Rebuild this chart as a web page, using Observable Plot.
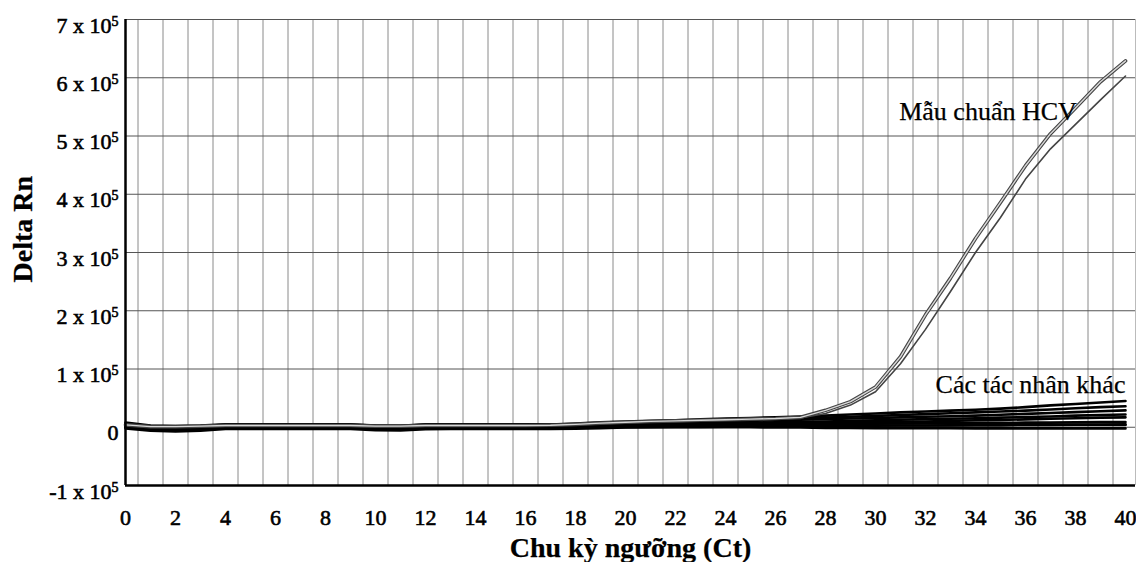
<!DOCTYPE html>
<html>
<head>
<meta charset="utf-8">
<script src="https://cdn.jsdelivr.net/npm/d3@7"></script>
<script src="https://cdn.jsdelivr.net/npm/@observablehq/plot@0.6"></script>
<style>
  html, body { margin: 0; padding: 0; background: #fff; }
  #chart svg { display: block; }
</style>
</head>
<body>
<div id="chart"></div>
<script>
// ---- Data ----
const cycles = [0,1,2,3,4,5,6,7,8,9,10,11,12,13,14,15,16,17,18,19,20,21,22,23,24,25,26,27,28,29,30,31,32,33,34,35,36,37,38,39,40];

// HCV standard sample (two replicates)
const hcvStandard1 = [4000,1000,1000,2000,3000,3000,3000,3000,3000,3000,2000,2000,3000,3000,3000,3000,3000,3500,5000,7000,8500,10000,11000,12000,13000,14000,15000,17000,29000,44000,69000,121000,193000,256000,324000,386000,449000,504000,548000,593000,629000];
const hcvStandard2 = [3000,0,0,1000,2000,2000,2000,2000,2000,2000,1000,1000,2000,2000,2000,2000,2000,3000,4500,6000,7500,9000,10000,11000,12000,13000,14000,16000,23500,38000,61000,109000,168000,233000,300000,360000,426000,478000,520000,562000,603000];

// Other agents (non-HCV samples)
const other1 = [6000,2000,1000,2000,4000,4000,4000,4000,4000,4000,3000,2500,4000,4000,4000,4000,4000,4500,6500,8500,10000,11000,12000,13500,15000,16000,17000,18500,20000,22000,23500,25500,27000,28500,30000,32000,34500,37500,40000,42500,45000];
const other2 = [3000,0,-1000,0,2000,2000,2000,2000,2000,2000,1000,1000,2000,2000,2000,2000,2000,2500,4000,6000,7500,9000,10000,11000,12000,13000,14000,15000,16500,18000,19500,21000,22500,24000,25500,27000,28500,30500,32500,34500,36000];
const other3 = [2000,-1000,-2000,-1000,1000,1500,1500,1500,1500,1500,500,0,1500,1500,1500,1500,1500,2000,3000,4000,5500,7000,8000,9000,10000,11000,12000,13000,14000,15000,16000,17000,18000,19000,20000,21500,23000,24500,26000,27500,29000];
const other4 = [1000,-2000,-3000,-2000,500,1000,1000,1000,1000,1000,0,-500,1000,1000,1000,1000,1000,1500,2000,3000,4000,5000,5500,6000,7000,8000,8500,9000,10000,11000,12000,13000,14000,14500,15500,16500,17500,18500,20000,21000,22000];
const other5 = [0,-3000,-4000,-3000,0,500,500,500,500,500,-1000,-1500,500,500,500,500,500,1000,1500,2000,2500,3000,3500,4000,5000,5500,6000,6500,7500,8000,9000,9500,10000,11000,12000,12500,13500,14500,15500,16500,17000];
const other6 = [0,-4000,-5000,-4000,-1000,0,0,0,0,0,-2500,-3000,-500,0,0,0,0,0,500,1000,1500,2000,2000,2500,2500,3000,3500,4000,4500,5000,6000,6500,7000,7000,7500,7500,8000,8000,8500,9000,9000];
const other7 = [-2000,-6000,-7000,-6000,-3000,-3000,-3000,-3000,-3000,-3000,-5000,-5500,-3500,-3000,-3000,-3000,-3000,-3000,-2500,-1500,-500,0,500,500,1000,1000,1000,1500,1500,2000,2500,3000,3000,3000,3500,3500,4000,4000,4500,4500,5000];
const other8 = [2000,-2000,-3000,-2000,0,0,0,0,0,0,-2000,-2500,0,0,0,0,0,0,0,0,0,0,0,0,0,0,-500,-500,-1000,-1000,-1500,-1500,-1500,-1500,-2000,-2000,-2000,-2000,-2000,-2000,-2000];
const other9 = [8000,3000,2000,3000,5000,5000,5000,5000,5000,5000,3000,2500,5000,5000,5000,5000,5000,4500,4000,3000,2500,2000,2000,2000,2000,2000,2000,2500,2500,2500,3000,3000,3000,3500,3500,3500,4000,4000,4000,4000,4000];

// Axis ticks and labels
const xTicks = [0,2,4,6,8,10,12,14,16,18,20,22,24,26,28,30,32,34,36,38,40];
const yTicks = [-100000,0,100000,200000,300000,400000,500000,600000,700000];
const yExponent = 5;
const xLabel = "Chu kỳ ngưỡng (Ct)";
const yLabel = "Delta Rn";
const annotations = [
  {text: "Mẫu chuẩn HCV", cycle: 34.5, value: 527000},
  {text: "Các tác nhân khác", cycle: 36.2, value: 58400}
];

// ---- Build tables ----
const otherSeries = [["other1", other1],["other2", other2],["other3", other3],["other4", other4],["other5", other5],["other6", other6],["other7", other7],["other8", other8],["other9", other9]];
const otherRows = otherSeries.flatMap(([name, vals]) => vals.map((v, i) => ({series: name, cycle: cycles[i], value: v})));
const hcv1Rows = hcvStandard1.map((v, i) => ({cycle: cycles[i], value: v}));
const hcv2Rows = hcvStandard2.map((v, i) => ({cycle: cycles[i], value: v}));
const vGrid = cycles.slice(0, 40).map(c => c + 0.5);

const chart = Plot.plot({
  width: 1136,
  height: 562,
  marginLeft: 125,
  marginRight: 1,
  marginTop: 19,
  marginBottom: 77,
  style: {fontFamily: "'Liberation Serif', 'DejaVu Serif', serif", background: "#fff", color: "#000"},
  x: {domain: [0, 40.4]},
  y: {domain: [-100000, 700000]},
  marks: [
    Plot.ruleX(vGrid, {stroke: "#8a8a8a", strokeWidth: 1}),
    Plot.ruleX([40.4], {stroke: "#bbb", strokeWidth: 1}),
    Plot.ruleY(yTicks, {stroke: "#555", strokeWidth: 1}),
    Plot.line(otherRows, {x: "cycle", y: "value", z: "series", stroke: "#000", strokeWidth: 2.6}),
    Plot.line(hcv2Rows, {x: "cycle", y: "value", stroke: "#444", strokeWidth: 1.6}),
    Plot.line(hcv1Rows, {x: "cycle", y: "value", stroke: "#444", strokeWidth: 3.6}),
    Plot.line(hcv1Rows, {x: "cycle", y: "value", stroke: "#d8d8d8", strokeWidth: 1.4}),
    Plot.ruleX([0], {stroke: "#000", strokeWidth: 2.5}),
    Plot.ruleY([-100000], {stroke: "#000", strokeWidth: 2.5}),
    Plot.axisX(xTicks, {tickSize: 0, tickPadding: 24, fontSize: 22, label: null, tickFormat: d => String(d)}),
    Plot.axisY(yTicks, {tickSize: 0, tickPadding: 7, fontSize: 22, dy: 6, label: null,
      tickFormat: d => d === 0 ? "0" : `${d / 1e5} x 10`}),
    Plot.text([xLabel], {frameAnchor: "bottom", dy: 63, fontSize: 28, fontWeight: "bold", lineAnchor: "middle"}),
    Plot.text([yLabel], {frameAnchor: "left", dx: -102, dy: 30, rotate: -90, fontSize: 28, fontWeight: "bold", lineAnchor: "middle"}),
    Plot.text(annotations, {x: "cycle", y: "value", text: "text", fontSize: 26, lineAnchor: "bottom", textAnchor: "middle", fill: "#000"})
  ]
});

// superscript exponent for y tick labels
const ns = "http://www.w3.org/2000/svg";
chart.querySelectorAll('g[aria-label="y-axis tick label"] text').forEach(t => {
  if (t.textContent.includes("x 10")) {
    const sup = document.createElementNS(ns, "tspan");
    sup.setAttribute("dy", "-0.5em");
    sup.setAttribute("font-size", "14");
    sup.textContent = String(yExponent);
    t.appendChild(sup);
  }
});
chart.querySelectorAll('g[aria-label="y-axis tick label"] text, g[aria-label="x-axis tick label"] text').forEach(t => {
  t.setAttribute("stroke", "#000");
  t.setAttribute("stroke-width", "0.6");
});
chart.querySelectorAll('g[aria-label="text"] text').forEach(t => {
  t.setAttribute("stroke", "#000");
  t.setAttribute("stroke-width", "0.25");
});

document.getElementById("chart").appendChild(chart);
</script>
</body>
</html>
